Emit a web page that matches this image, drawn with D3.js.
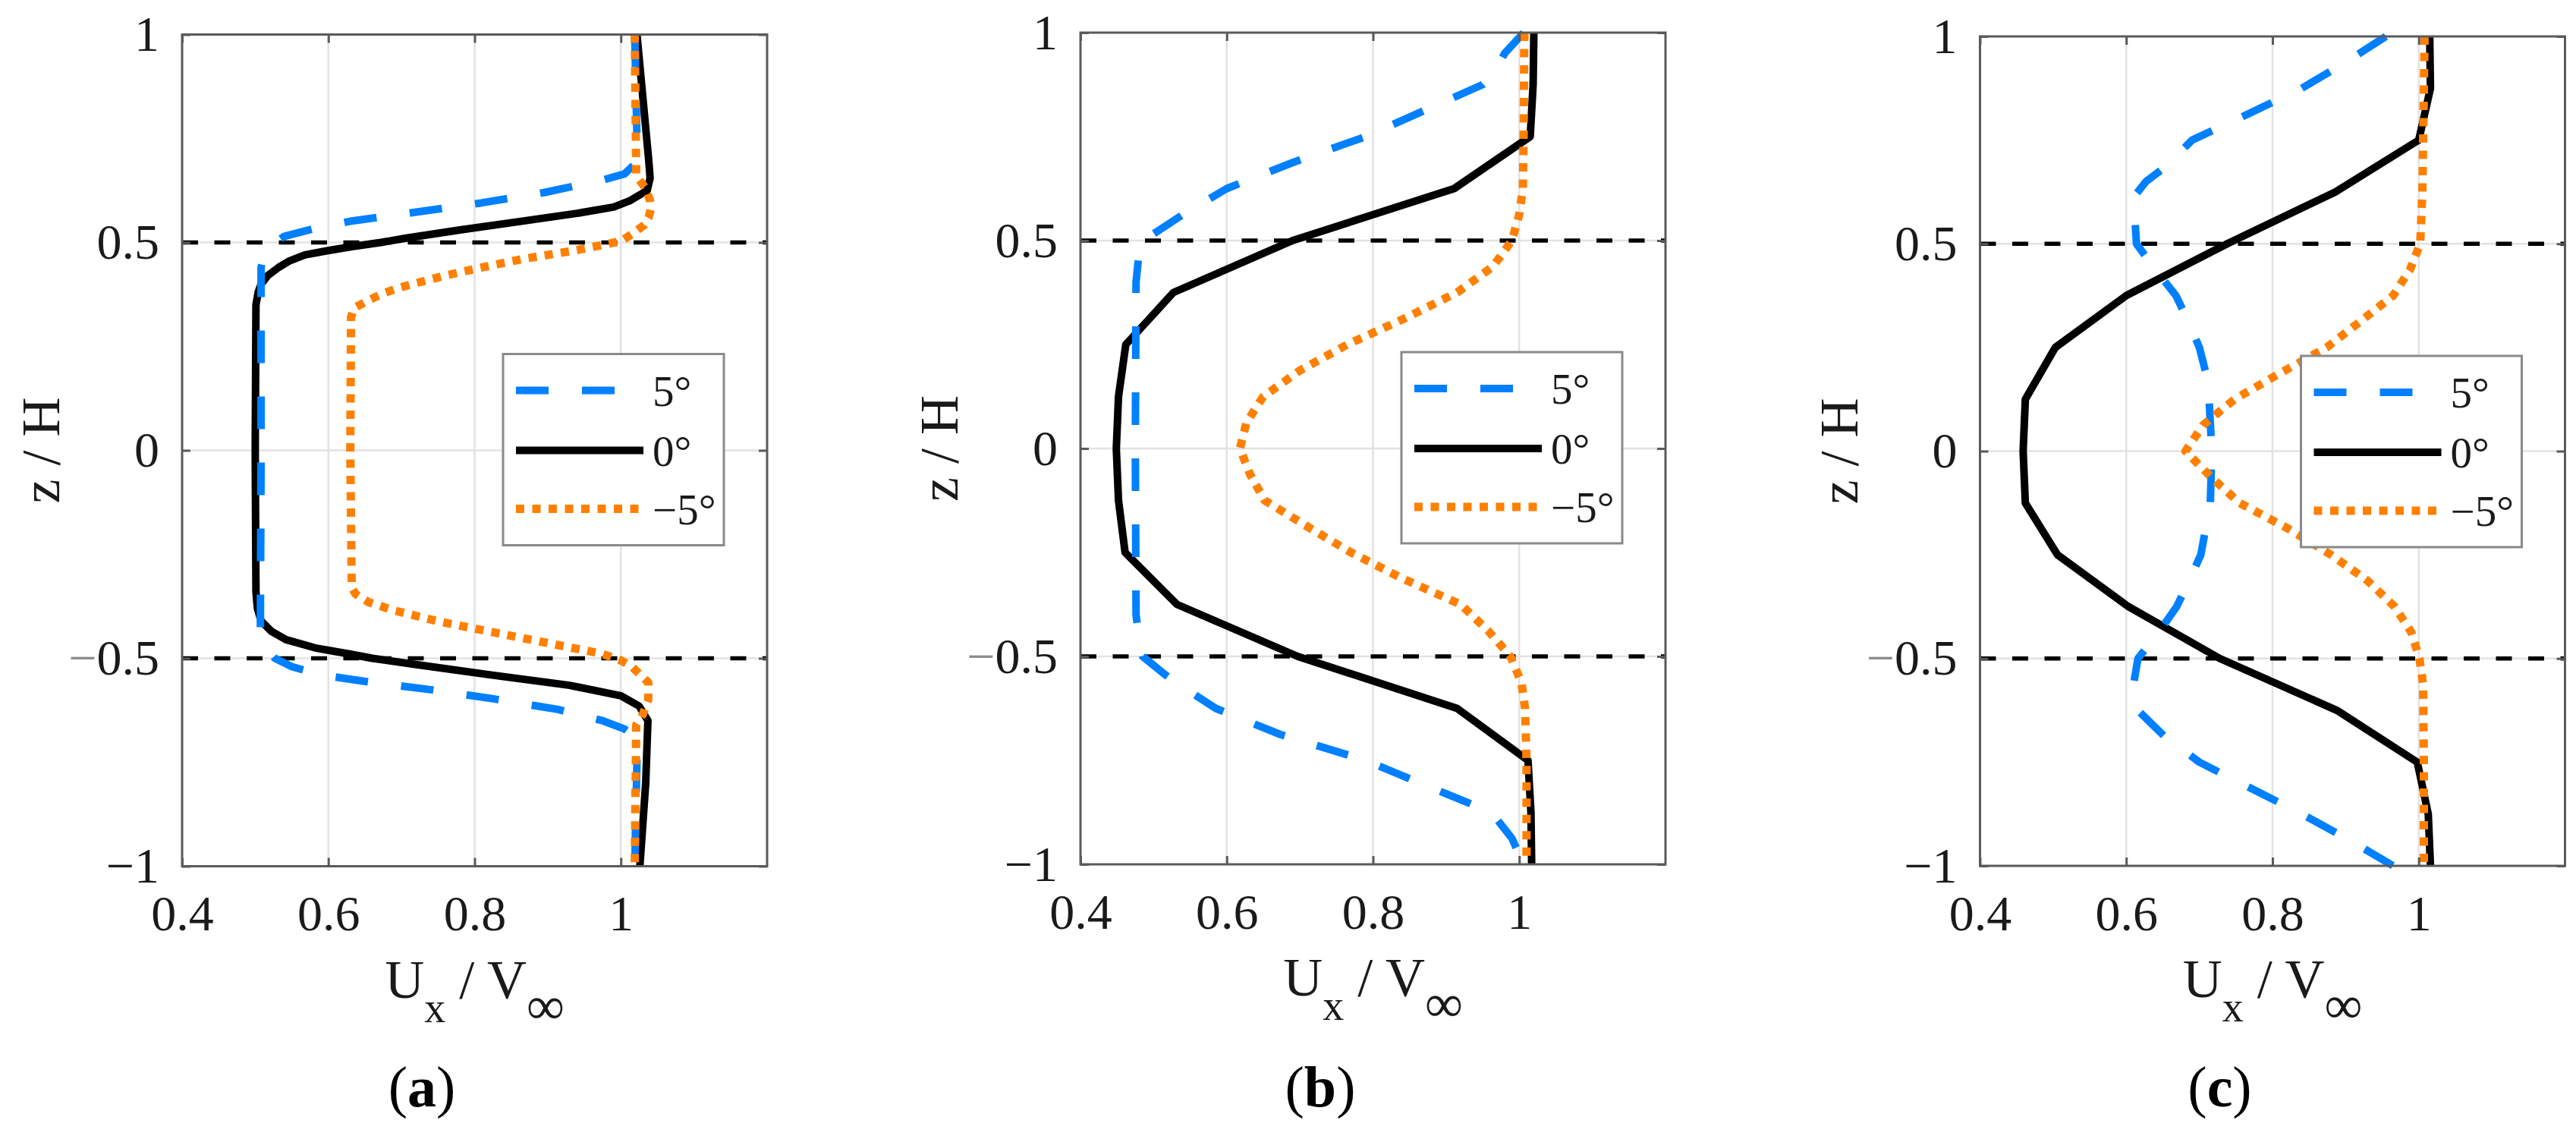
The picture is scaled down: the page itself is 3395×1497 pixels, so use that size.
<!DOCTYPE html>
<html>
<head>
<meta charset="utf-8">
<script src="https://cdn.jsdelivr.net/npm/d3@7"></script>
<style>
body { margin: 0; background: #fff; }
</style>
</head>
<body>
<svg id="chart"></svg>
<script>
var width = 3395;
var height = 1497;
var serif = "'Liberation Serif', Tinos, 'Times New Roman', 'Nimbus Roman', 'DejaVu Serif', serif";

// velocity profiles, each point is [z / H, Ux / Vinf]
var aPos5 = [[1, 1.019], [0.75, 1.022], [0.69, 1.02], [0.665, 1.005], [0.65, 0.975], [0.62, 0.895], [0.595, 0.809],
	[0.573, 0.72], [0.551, 0.63], [0.536, 0.587], [0.515, 0.54], [0.495, 0.523], [0.47, 0.512], [0.44, 0.508], [0, 0.508],
	[-0.44, 0.507], [-0.475, 0.515], [-0.5, 0.527], [-0.52, 0.55], [-0.54, 0.59], [-0.558, 0.66], [-0.576, 0.742],
	[-0.597, 0.824], [-0.623, 0.914], [-0.65, 0.975], [-0.67, 1.005], [-0.69, 1.02], [-0.75, 1.022], [-1, 1.019]];
var aZero = [[1, 1.022], [0.85, 1.03], [0.7, 1.038], [0.655, 1.04], [0.625, 1.036], [0.6, 1.012], [0.585, 0.99],
	[0.57, 0.94], [0.55, 0.86], [0.53, 0.78], [0.51, 0.705], [0.5, 0.672], [0.49, 0.632], [0.48, 0.598], [0.47, 0.568],
	[0.455, 0.546], [0.44, 0.532], [0.42, 0.517], [0.4, 0.508], [0.38, 0.504], [0.35, 0.501], [0, 0.5], [-0.34, 0.501],
	[-0.38, 0.503], [-0.41, 0.508], [-0.435, 0.522], [-0.455, 0.542], [-0.475, 0.582], [-0.49, 0.63], [-0.5, 0.66],
	[-0.515, 0.72], [-0.54, 0.822], [-0.565, 0.93], [-0.59, 1.0], [-0.615, 1.025], [-0.65, 1.037], [-0.8, 1.034], [-1, 1.026]];
var aNeg5 = [[1, 1.019], [0.66, 1.021], [0.63, 1.034], [0.6, 1.04], [0.58, 1.041], [0.56, 1.038], [0.542, 1.032],
	[0.52, 1.015], [0.503, 1.0], [0.492, 0.97], [0.48, 0.935], [0.46, 0.865], [0.44, 0.81], [0.42, 0.759], [0.4, 0.715],
	[0.39, 0.695], [0.377, 0.674], [0.36, 0.654], [0.342, 0.635], [0.32, 0.631], [0, 0.63], [-0.33, 0.632], [-0.345, 0.637],
	[-0.365, 0.655], [-0.385, 0.69], [-0.411, 0.75], [-0.437, 0.824], [-0.463, 0.899], [-0.489, 0.974], [-0.505, 1.0],
	[-0.52, 1.015], [-0.558, 1.0375], [-0.6, 1.0375], [-0.635, 1.03], [-0.66, 1.021], [-1, 1.019]];

var bPos5 = [[1, 1.006], [0.95, 0.98], [0.9, 0.965], [0.875, 0.95], [0.8125, 0.87], [0.75, 0.79], [0.6875, 0.69],
	[0.625, 0.6], [0.5625, 0.54], [0.5, 0.486], [0.47, 0.48], [0.4, 0.476], [0, 0.475], [-0.4, 0.476], [-0.47, 0.481],
	[-0.5, 0.485], [-0.54, 0.513], [-0.5625, 0.53], [-0.625, 0.585], [-0.6875, 0.673], [-0.75, 0.79], [-0.8125, 0.875],
	[-0.875, 0.962], [-0.9375, 0.99], [-1, 1.006]];
var bZero = [[1, 1.02], [0.875, 1.019], [0.75, 1.015], [0.625, 0.911], [0.5, 0.69], [0.375, 0.527], [0.25, 0.462],
	[0.125, 0.452], [0, 0.449], [-0.125, 0.452], [-0.25, 0.461], [-0.375, 0.532], [-0.5, 0.697], [-0.625, 0.915],
	[-0.75, 1.012], [-0.875, 1.016], [-1, 1.017]];
var bNeg5 = [[1, 1.007], [0.75, 1.006], [0.625, 1.005], [0.5625, 1.0], [0.5, 0.99], [0.4375, 0.964], [0.375, 0.915],
	[0.3125, 0.843], [0.25, 0.765], [0.1875, 0.7], [0.125, 0.65], [0.0625, 0.627], [0, 0.618], [-0.0625, 0.632],
	[-0.125, 0.652], [-0.1875, 0.71], [-0.25, 0.77], [-0.3125, 0.84], [-0.375, 0.92], [-0.4375, 0.957], [-0.5, 0.988],
	[-0.5625, 1.003], [-0.625, 1.008], [-0.75, 1.01], [-1, 1.01]];

var cPos5 = [[1, 0.955], [0.9375, 0.9], [0.875, 0.84], [0.8125, 0.766], [0.75, 0.69], [0.6875, 0.655], [0.65, 0.627],
	[0.612, 0.61], [0.5, 0.614], [0.4375, 0.64], [0.375, 0.668], [0.3125, 0.685], [0.25, 0.7], [0.167, 0.712],
	[0, 0.717], [-0.125, 0.715], [-0.25, 0.702], [-0.3125, 0.686], [-0.375, 0.669], [-0.4375, 0.644], [-0.5, 0.616],
	[-0.5625, 0.61], [-0.625, 0.616], [-0.6875, 0.652], [-0.75, 0.7], [-0.8125, 0.77], [-0.875, 0.84], [-0.9375, 0.905],
	[-1, 0.965]];
var cZero = [[1, 1.015], [0.875, 1.016], [0.75, 1.0], [0.625, 0.886], [0.5, 0.738], [0.375, 0.6], [0.25, 0.503],
	[0.125, 0.462], [0, 0.459], [-0.125, 0.462], [-0.25, 0.506], [-0.375, 0.603], [-0.5, 0.728], [-0.625, 0.888],
	[-0.75, 0.998], [-0.875, 1.013], [-1, 1.016]];
var cNeg5 = [[1, 1.008], [0.75, 1.006], [0.625, 1.005], [0.5, 1.002], [0.4375, 0.988], [0.375, 0.965], [0.3125, 0.92],
	[0.25, 0.874], [0.1875, 0.81], [0.125, 0.748], [0.0625, 0.705], [0, 0.681], [-0.0625, 0.716], [-0.125, 0.755],
	[-0.1875, 0.822], [-0.25, 0.88], [-0.3125, 0.93], [-0.375, 0.967], [-0.4375, 0.99], [-0.5, 1.001], [-0.5625, 1.006],
	[-0.75, 1.007], [-1, 1.007]];

var xDomain = [0.4, 1.2];
var yDomain = [-1, 1];
var xTicks = [0.4, 0.6, 0.8, 1];
var yTicks = [-1, -0.5, 0, 0.5, 1];
var refLines = [0.5, -0.5];
var seriesNames = ["5°", "0°", "−5°"];
var panelLabels = ["a", "b", "c"];

// line styles for 5°, 0°, -5°
var styles = [
	{ color: "#0080ff", width: 10, dash: "43,44" },
	{ color: "#000000", width: 10, dash: null },
	{ color: "#ff8000", width: 11, dash: "11,10.5" }
];

// where each axes box sits on the page
var panels = [
	{ left: 240, top: 45.5, bottom: 1141.5, data: [aPos5, aZero, aNeg5] },
	{ left: 1424, top: 43, bottom: 1139, data: [bPos5, bZero, bNeg5] },
	{ left: 2609.5, top: 48, bottom: 1141, data: [cPos5, cZero, cNeg5] }
];
var boxWidth = 771;
var axisColor = "#5a5a5a";

var svg = d3.select("#chart").attr("width", width).attr("height", height);
svg.append("rect").attr("width", width).attr("height", height).attr("fill", "#fff");

function fmt(d) {
	return (d < 0 ? "−" : "") + Math.abs(d);
}

panels.forEach(function (p, i) {
	var x = d3.scaleLinear().domain(xDomain).range([p.left, p.left + boxWidth]);
	var y = d3.scaleLinear().domain(yDomain).range([p.bottom, p.top]);
	var g = svg.append("g").attr("font-family", serif);

	// grid
	g.selectAll(".gx").data(xTicks.slice(1)).enter().append("line")
		.attr("x1", d => x(d)).attr("x2", d => x(d))
		.attr("y1", p.top).attr("y2", p.bottom)
		.attr("stroke", "#e2e2e2").attr("stroke-width", 2.5);
	g.selectAll(".gy").data([-0.5, 0, 0.5]).enter().append("line")
		.attr("x1", p.left).attr("x2", p.left + boxWidth)
		.attr("y1", d => y(d)).attr("y2", d => y(d))
		.attr("stroke", "#e2e2e2").attr("stroke-width", 2.5);

	// the +-0.5 reference lines
	g.selectAll(".ref").data(refLines).enter().append("line")
		.attr("x1", x(xDomain[0])).attr("x2", x(xDomain[1]))
		.attr("y1", d => y(d)).attr("y2", d => y(d))
		.attr("stroke", "#000").attr("stroke-width", 5.5).attr("stroke-dasharray", "21,21.5");

	var line = d3.line().x(d => x(d[1])).y(d => y(d[0]));

	// draw order: 0°, 5°, -5°
	[1, 0, 2].forEach(function (k) {
		var s = styles[k];
		g.append("path")
			.datum(p.data[k])
			.attr("d", line)
			.attr("fill", "none")
			.attr("stroke", s.color)
			.attr("stroke-width", s.width)
			.attr("stroke-linejoin", "round")
			.attr("stroke-dasharray", s.dash);
	});

	// axes box and ticks
	g.append("rect")
		.attr("x", p.left).attr("y", p.top)
		.attr("width", boxWidth).attr("height", p.bottom - p.top)
		.attr("fill", "none").attr("stroke", axisColor).attr("stroke-width", 3);

	var axes = [
		{ a: d3.axisBottom(x).tickValues(xTicks).tickSize(-11).tickPadding(38).tickFormat(fmt), t: "translate(0," + p.bottom + ")" },
		{ a: d3.axisTop(x).tickValues(xTicks).tickSize(-11).tickFormat(""), t: "translate(0," + p.top + ")" },
		{ a: d3.axisLeft(y).tickValues(yTicks).tickSize(-11).tickPadding(30).tickFormat(fmt), t: "translate(" + p.left + ",0)" },
		{ a: d3.axisRight(y).tickValues(yTicks).tickSize(-11).tickFormat(""), t: "translate(" + (p.left + boxWidth) + ",0)" }
	];
	axes.forEach(function (ax, j) {
		var ag = g.append("g").attr("transform", ax.t).call(ax.a);
		ag.attr("font-family", serif).attr("font-size", 66);
		ag.select(".domain").remove();
		ag.selectAll("line").attr("stroke", axisColor).attr("stroke-width", 3);
		ag.selectAll("text").attr("fill", "#1a1a1a");
		if (j === 2) {
			// the minus of -0.5 is printed in grey
			ag.selectAll("text").filter(d => d === -0.5).each(function () {
				var t = d3.select(this).text("");
				t.append("tspan").attr("fill", "#8c8c8c").text("−");
				t.append("tspan").text("0.5");
			});
		}
	});

	// axis labels
	var cx = p.left + boxWidth / 2;
	var xl = g.append("text")
		.attr("x", cx).attr("y", p.bottom + 173)
		.attr("text-anchor", "middle").attr("font-size", 72).attr("fill", "#1a1a1a");
	xl.append("tspan").text("U");
	xl.append("tspan").attr("font-size", 56).attr("dy", 32).text("x");
	xl.append("tspan").attr("dy", -32).text(" / V");
	xl.append("tspan").attr("font-size", 70).attr("dy", 34).text("∞");

	g.append("text")
		.attr("transform", "translate(" + (p.left - 162) + "," + ((p.top + p.bottom) / 2) + ") rotate(-90)")
		.attr("text-anchor", "middle").attr("font-size", 72).attr("fill", "#1a1a1a")
		.text("z / H");

	var pl = g.append("text")
		.attr("x", p.left + 316).attr("y", 1458)
		.attr("text-anchor", "middle").attr("font-size", 76).attr("fill", "#000");
	pl.append("tspan").text("(");
	pl.append("tspan").attr("font-weight", "bold").text(panelLabels[i]);
	pl.append("tspan").text(")");

	// legend
	var lx = p.left + 423, ly = p.top + 421;
	var lg = g.append("g").attr("transform", "translate(" + lx + "," + ly + ")");
	lg.append("rect").attr("width", 291).attr("height", 252)
		.attr("fill", "#fff").attr("stroke", "#8a8a8a").attr("stroke-width", 3);
	var rows = [48, 127, 204];
	seriesNames.forEach(function (name, k) {
		var s = styles[k];
		lg.append("line")
			.attr("x1", 17).attr("x2", 185)
			.attr("y1", rows[k]).attr("y2", rows[k])
			.attr("stroke", s.color).attr("stroke-width", s.width)
			.attr("stroke-dasharray", s.dash);
		lg.append("text")
			.attr("x", 197).attr("y", rows[k] + 20)
			.attr("font-size", 57).attr("fill", "#1a1a1a")
			.text(name);
	});
});
</script>
</body>
</html>
